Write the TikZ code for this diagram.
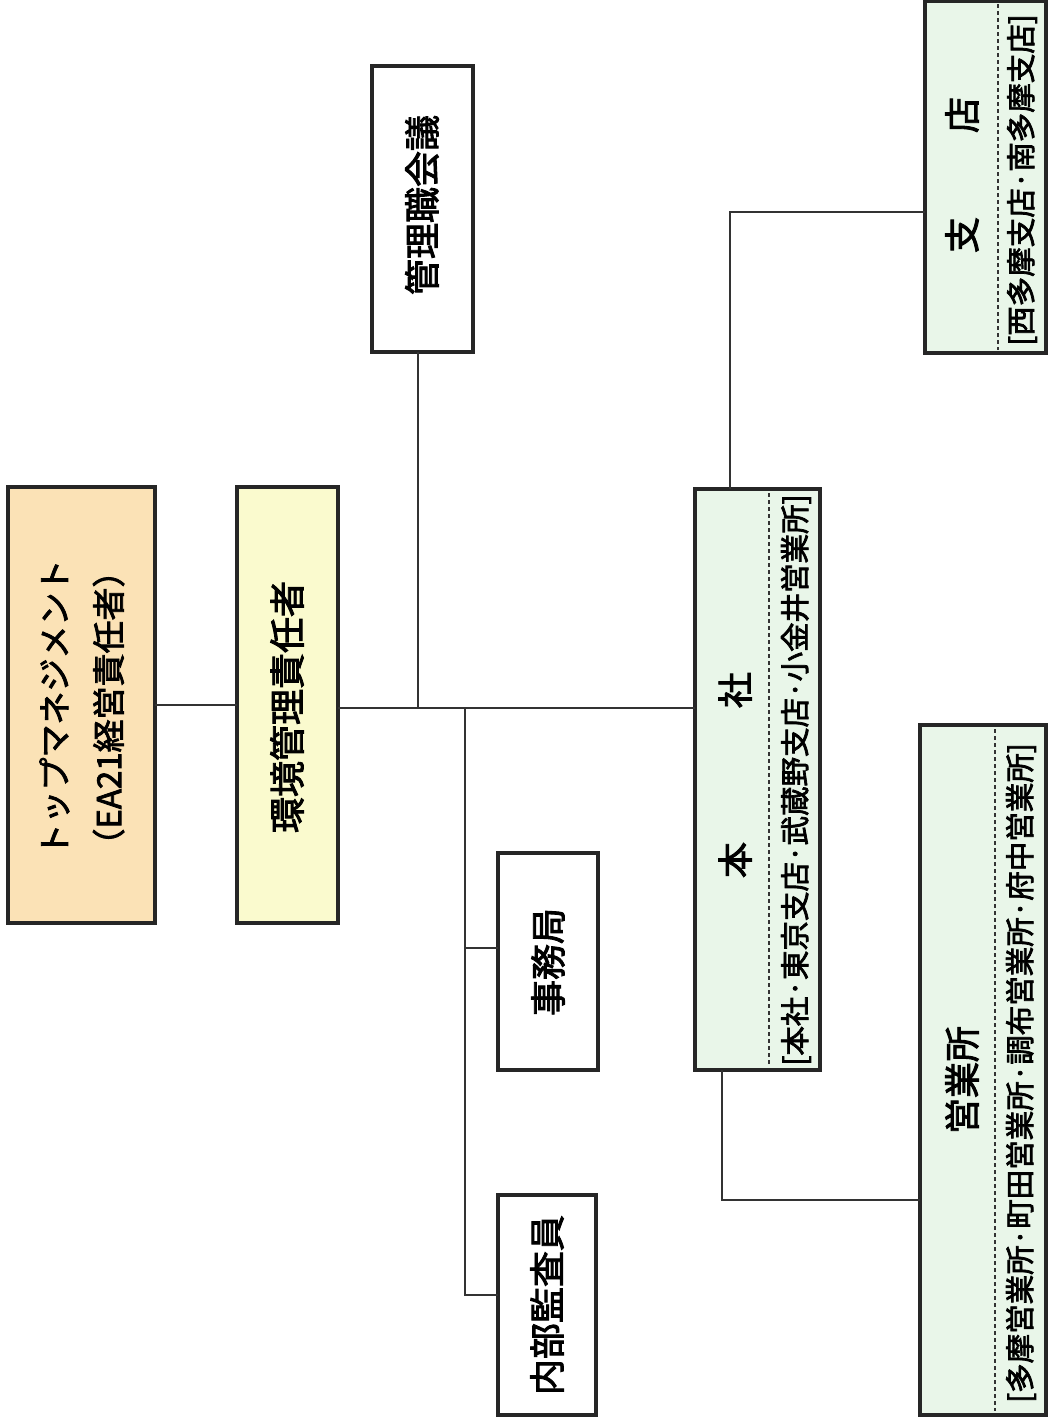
\documentclass[tikz,border=0pt]{standalone}
\usepackage{fontspec}
\setmainfont{Noto Sans CJK JP}[AutoFakeBold=2.5]
\definecolor{topfill}{RGB}{251,226,182}
\definecolor{emrfill}{RGB}{250,250,206}
\definecolor{grnfill}{RGB}{233,246,233}
\tikzset{
  box/.style={draw=black!85, line width=3.6pt, inner sep=0pt, outer sep=0pt, fill=white},
  conn/.style={line width=1.4pt, draw=black!80},
  divline/.style={line width=2.2pt, draw=black!80, dash pattern=on 4pt off 3pt},
  big/.style={font=\fontsize{36}{42}\selectfont\bfseries},
  topf/.style={font=\fontsize{33}{40}\selectfont\bfseries},
  small/.style={font=\fontsize{29.5}{33}\selectfont\bfseries},
}
\newcommand{\rt}[1]{\rotatebox{90}{#1}}
\begin{document}
\begin{tikzpicture}[x=1pt,y=-1pt]
\useasboundingbox (0,0) rectangle (1048,1419);
% boxes
\node[box, fill=topfill, minimum width=147pt, minimum height=436pt] (top) at (81.5,705) {};
\node[box, fill=emrfill, minimum width=101pt, minimum height=436pt] (emr) at (287.5,705) {};
\node[box, minimum width=101pt, minimum height=286pt] (kanri) at (422.5,209) {};
\node[box, minimum width=100pt, minimum height=217pt] (jimu) at (548,961.5) {};
\node[box, minimum width=98pt, minimum height=220pt] (naibu) at (547,1305) {};
\node[box, fill=grnfill, minimum width=125pt, minimum height=581pt] (honsha) at (757.5,779.5) {};
\node[box, fill=grnfill, minimum width=121pt, minimum height=352pt] (shiten) at (985.5,177) {};
\node[box, fill=grnfill, minimum width=126pt, minimum height=690pt] (eigyo) at (983,1070) {};
% texts
\node[topf, align=center] (ttop) at (86,708) {\rt{\begin{tabular}{@{}c@{}}トップマネジメント\\[14pt]（EA21経営責任者）\end{tabular}}};
\node[big] (temr) at (287,707) {\rt{環境管理責任者}};
\node[big] (tkanri) at (422,205) {\rt{管理職会議}};
\node[big] (tjimu) at (548,962) {\rt{事務局}};
\node[big] (tnaibu) at (547,1305) {\rt{内部監査員}};
\node[big] (thonsha) at (735,775) {\rt{本\hspace{134pt}社}};
\node[small] (bhonsha) at (796,780) {\rt{[本社·東京支店·武蔵野支店·小金井営業所]}};
\node[big] (tshiten) at (962,175) {\rt{支\hspace{84pt}店}};
\node[small] (bshiten) at (1022,180) {\rt{[西多摩支店·南多摩支店]}};
\node[big] (teigyo) at (962,1080) {\rt{営業所}};
\node[small] (beigyo) at (1021,1073) {\rt{[多摩営業所·町田営業所·調布営業所·府中営業所]}};
% dividers
\draw[divline] (769,493) -- (769,1066);
\draw[divline] (998,4) -- (998,350);
\draw[divline] (995,729) -- (995,1411);
% connector coordinates
\coordinate (j1) at (418,708);
\coordinate (j2) at (465,708);
\coordinate (jb) at (465,948);
\coordinate (nb) at (465,1295);
\coordinate (hs) at (730,212);
\coordinate (he) at (722,1200);
% connectors
\draw[conn] (top.east) -- (emr.west);
\draw[conn] (emr.east |- j1) -- (honsha.west |- j1);
\draw[conn] (j1) -- (j1 |- kanri.south);
\draw[conn] (j2) -- (nb) -- (naibu.west |- nb);
\draw[conn] (jb) -- (jimu.west |- jb);
\draw[conn] (honsha.north -| hs) |- (shiten.west |- hs);
\draw[conn] (honsha.south -| he) |- (eigyo.west |- he);
\end{tikzpicture}
\end{document}
